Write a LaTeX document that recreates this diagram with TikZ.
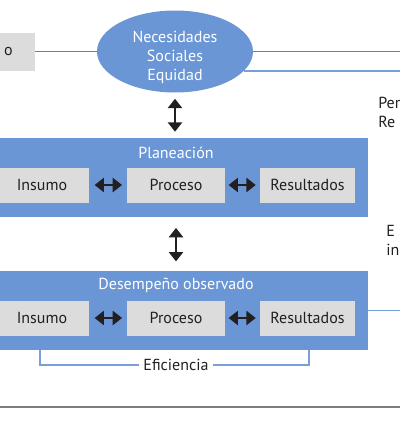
\documentclass[tikz,border=0pt]{standalone}
\usepackage{fontspec}
\setmainfont{PT Sans}
\definecolor{fillblue}{RGB}{106,150,214}
\definecolor{lineblue}{RGB}{122,158,216}
\definecolor{boxgray}{RGB}{220,220,220}
\definecolor{rulegray}{RGB}{125,125,125}
\definecolor{darktext}{RGB}{35,31,32}
\usetikzlibrary{arrows.meta,positioning,calc,shapes.geometric}

\begin{document}
\begin{tikzpicture}[x=0.75pt,y=-0.75pt,
    font=\fontsize{12}{14.25}\selectfont,
    grayblock/.style={fill=boxgray, text=darktext, minimum height=26.25pt, inner sep=0pt},
    bigblock/.style={fill=fillblue, minimum width=276pt, minimum height=59.25pt, inner sep=0pt},
    blocktitle/.style={text=white, inner sep=0pt},
    grayline/.style={draw=rulegray, line width=0.8pt},
    blueline/.style={draw=lineblue, line width=1.3pt},
    biarrow/.style={line width=2.2pt, darktext,
      {Triangle[width=10.5pt,length=7pt]}-{Triangle[width=10.5pt,length=7pt]}}]
  \useasboundingbox (0,0) rectangle (400,421);
  \clip (0,0) rectangle (400,421);

  % top row
  \node[grayblock, minimum width=39.75pt, minimum height=28.5pt] (finan) at (8.5,51.5) {o};
  \node[ellipse, fill=fillblue, minimum width=117pt, minimum height=61.5pt, inner sep=0pt,
        label={[text=white, align=center, yshift=-4.5pt]center:Necesidades\\Sociales\\Equidad}]
        (necesidades) at (175,51.5) {};
  \coordinate (rim) at (400,0);
  \draw[grayline] (finan.east) -- (necesidades.west);
  \draw[grayline] (necesidades.east) -- (necesidades.east -| rim);
  \draw[blueline] (necesidades.-16) -- (necesidades.-16 -| rim);
  \node[anchor=north west, align=left, text=darktext, inner sep=0pt] (pertinencia) at (378,97) {Per\\Re};

  % planeacion
  \node[bigblock] (planeacion) at (184,177.5) {};
  \node[grayblock, minimum width=70.5pt] (pInsumo) at (42,185) {Insumo};
  \node[grayblock, minimum width=73.5pt] (pProceso) at (176,185) {Proceso};
  \node[grayblock, minimum width=71.25pt] (pResultados) at (307.5,185) {Resultados};
  \node[blocktitle] (planTitle) at ($(planeacion.north -| pProceso)+(0,15)$) {Planeación};
  \draw[biarrow, shorten <=4pt, shorten >=3.5pt] (pInsumo.east) -- (pProceso.west);
  \draw[biarrow, shorten <=2.5pt, shorten >=3pt] (pProceso.east) -- (pResultados.west);
  \draw[biarrow, shorten <=4.5pt, shorten >=4.5pt] (necesidades.south) -- (necesidades.south |- planeacion.north);
  \draw[blueline] ($(planeacion.north east)+(0,29)$) -- ($(planeacion.north east)+(0,29)$ -| rim);
  \draw[blueline] ($(planeacion.north east)+(0,37)$) -- ($(planeacion.north east)+(0,37)$ -| rim);
  \node[anchor=north west, align=left, text=darktext, inner sep=0pt] (eficacia) at (386,225) {E\\in};

  % desempeno observado
  \node[bigblock] (desempeno) at (184,310.5) {};
  \node[grayblock, minimum width=70.5pt] (dInsumo) at (42,318) {Insumo};
  \node[grayblock, minimum width=73.5pt] (dProceso) at (176,318) {Proceso};
  \node[grayblock, minimum width=71.25pt] (dResultados) at (307.5,318) {Resultados};
  \node[blocktitle] (desTitle) at ($(desempeno.north -| dProceso)+(0,15)$) {Desempeño observado};
  \draw[biarrow, shorten <=4pt, shorten >=3.5pt] (dInsumo.east) -- (dProceso.west);
  \draw[biarrow, shorten <=2.5pt, shorten >=3pt] (dProceso.east) -- (dResultados.west);
  \draw[biarrow, shorten <=8pt, shorten >=7pt] (pProceso |- planeacion.south) -- (pProceso |- desempeno.north);
  \draw[blueline] (desempeno.east) -- (desempeno.east -| rim);

  % eficiencia
  \node[text=darktext, inner sep=3pt] (eficiencia) at (176,365) {Eficiencia};
  \draw[blueline] (eficiencia.west) -| ([xshift=30pt]desempeno.south west);
  \draw[blueline] (eficiencia.east) -| ([xshift=-44.25pt]desempeno.south east);

  % bottom rule
  \coordinate (ruleL) at (0,407);
  \coordinate (ruleR) at (400,407);
  \draw[grayline] (ruleL) -- (ruleR);
\end{tikzpicture}
\end{document}
